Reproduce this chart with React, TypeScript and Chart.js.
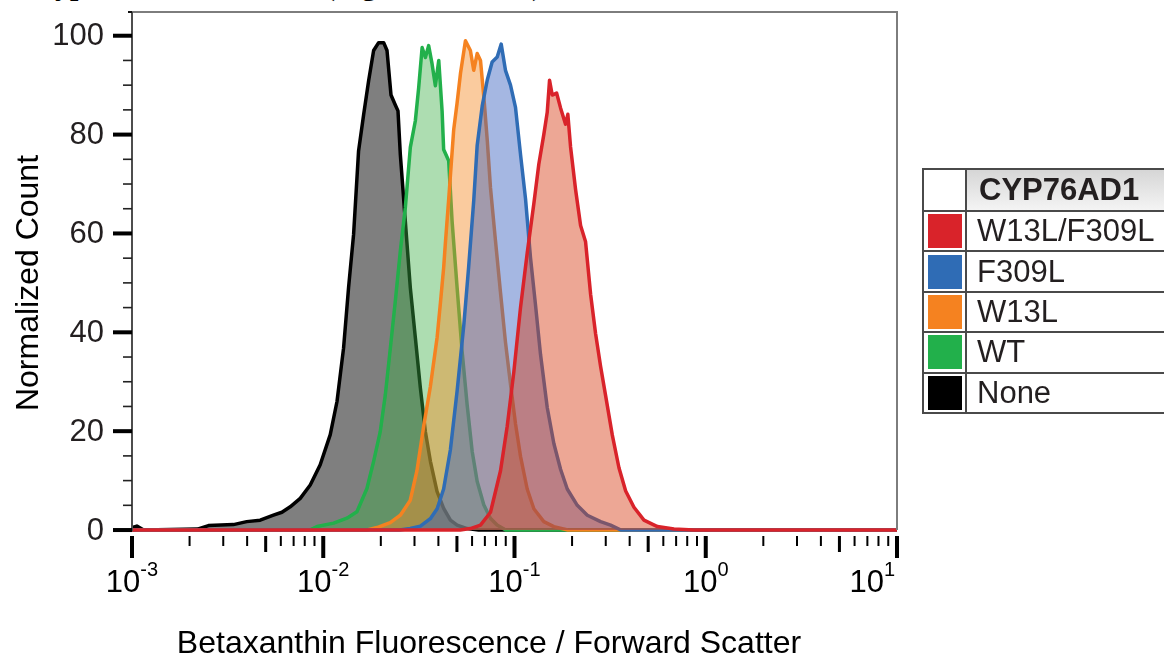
import React, { useEffect, useRef } from "react";
import { Chart, registerables } from "chart.js";

Chart.register(...registerables);

const W = 1164;
const H = 658;

// ---- series (x = betaxanthin/FSC ratio, y = normalized count) ----
const noneX = [0.001, 0.00106, 0.00115, 0.0022, 0.00251, 0.00339, 0.00398, 0.00468, 0.00549, 0.00608, 0.00672, 0.00758, 0.00855, 0.00964, 0.01088, 0.0118, 0.01277, 0.01356, 0.01441, 0.0153, 0.01626, 0.01727, 0.01834, 0.01948, 0.0207, 0.02155, 0.02261, 0.02381, 0.02459, 0.02529, 0.02686, 0.02853, 0.03031, 0.0322, 0.0342, 0.03633, 0.03934, 0.04261, 0.04622, 0.05012, 0.05656, 0.065, 10];
const noneY = [0.5, 0.8, 0, 0.2, 0.9, 1.1, 1.7, 2.0, 3.0, 3.6, 4.7, 6.4, 9.1, 13.2, 19.3, 26, 36.8, 49, 59.8, 76.7, 84, 90.9, 97, 98.6, 98.6, 97, 88, 86, 84.8, 76, 62.5, 49, 38.9, 28.7, 19.9, 13.9, 7.8, 4.4, 2.0, 1.0, 0.3, 0, 0];

const wtX = [0.001, 0.0085, 0.00927, 0.01133, 0.0133, 0.015, 0.01692, 0.01834, 0.01986, 0.02112, 0.02243, 0.02381, 0.02529, 0.02686, 0.02853, 0.03031, 0.03155, 0.03288, 0.0342, 0.03557, 0.03707, 0.03857, 0.04017, 0.04182, 0.04261, 0.04528, 0.04717, 0.05012, 0.05323, 0.05656, 0.06008, 0.06383, 0.06907, 0.07482, 0.0811, 0.09, 10];
const wtY = [0, 0, 0.7, 1.4, 2.4, 3.7, 8.4, 13.9, 19.9, 27.4, 36.8, 46.3, 56.4, 65.2, 77.4, 82.8, 89.5, 97.6, 95.6, 98, 94.3, 89.9, 95, 84.8, 77, 74.7, 62.5, 49, 36.1, 25.3, 15.9, 9.8, 5.1, 2.4, 1.0, 0, 0];

const w13lX = [0.001, 0.017, 0.0191, 0.0224, 0.0253, 0.0285, 0.0309, 0.0335, 0.0363, 0.0394, 0.041, 0.0426, 0.0435, 0.0453, 0.0481, 0.0501, 0.0522, 0.0554, 0.0588, 0.0612, 0.0638, 0.0664, 0.0691, 0.072, 0.0749, 0.0795, 0.0845, 0.0897, 0.0953, 0.1012, 0.1075, 0.1165, 0.1262, 0.1423, 0.1606, 0.19, 10];
const w13lY = [0, 0, 0.5, 1.5, 3, 6, 12, 21, 29, 39, 46, 53, 58, 67, 81, 86.4, 92.4, 99, 97, 93, 96.4, 95, 87.7, 79, 69.2, 58.6, 48, 38, 29.5, 21.5, 14.9, 8.3, 4.3, 1.7, 0.7, 0, 0];

const f309lX = [0.001, 0.025, 0.0285, 0.0322, 0.0363, 0.0394, 0.0426, 0.0462, 0.0501, 0.0543, 0.0576, 0.0612, 0.0638, 0.0678, 0.072, 0.0764, 0.0812, 0.0852, 0.0897, 0.0953, 0.1012, 0.1075, 0.1142, 0.1213, 0.1288, 0.1368, 0.1483, 0.1606, 0.1741, 0.1887, 0.2129, 0.2402, 0.282, 0.318, 0.36, 10];
const f309lY = [0, 0, 0.3, 0.8, 2.3, 4.3, 8.3, 16.2, 28.1, 41.4, 53.3, 66.6, 77.8, 85.8, 91, 94.7, 95.7, 98.3, 93, 90, 85.5, 76, 67, 55, 45.5, 35.5, 24.8, 17.5, 12.3, 8.3, 5, 3, 1.7, 1, 0, 0];

const dblX = [0.001, 0.052, 0.0588, 0.0664, 0.0749, 0.0845, 0.0916, 0.0992, 0.1075, 0.1165, 0.1262, 0.134, 0.1423, 0.1483, 0.1525, 0.1575, 0.166, 0.1741, 0.1849, 0.1901, 0.1964, 0.2086, 0.2216, 0.2353, 0.25, 0.2655, 0.282, 0.2995, 0.3247, 0.3517, 0.3813, 0.4213, 0.4753, 0.5585, 0.6823, 0.8653, 10];
const dblY = [0, 0, 0.3, 1, 3.6, 12, 21, 32, 45, 56, 66, 74, 80, 84.5, 91, 88, 88.4, 85.4, 82.1, 84.1, 77.5, 68.9, 61.6, 58.3, 47.7, 39.7, 33.1, 27.2, 19.2, 12.6, 7.9, 4.6, 2, 0.7, 0.2, 0, 0];

// legend / series order (top of legend = drawn on top)
const seriesLabels = ["W13L/F309L", "F309L", "W13L", "WT", "None"];
const seriesXs = [dblX, f309lX, w13lX, wtX, noneX];
const seriesYs = [dblY, f309lY, w13lY, wtY, noneY];
const lineColors = ["#d9232a", "#2f6cb5", "#f58220", "#22b04b", "#000000"];
const fillColors = [
  "rgba(215,60,20,0.45)",
  "rgba(55,95,190,0.45)",
  "rgba(245,140,40,0.45)",
  "rgba(60,175,70,0.42)",
  "rgba(0,0,0,0.5)",
];
const legendTitle = "CYP76AD1";

// axes
const xMin = 0.001;
const xMax = 10;
const yMin = -0.6;
const yMax = 104.8;
const yLabelTicks = [0, 20, 40, 60, 80, 100];
const yMinorStep = 5;
const xDecades = [-3, -2, -1, 0, 1];
const xTitle = "Betaxanthin Fluorescence / Forward Scatter";
const yTitle = "Normalized Count";

const SANS = "'Liberation Sans', Arial, Helvetica, sans-serif";
const TEXT = "#231f20";

const axisPlugin = {
  id: "flowAxes",
  afterDatasetsDraw(chart: any) {
    const ctx = chart.ctx;
    const xs = chart.scales.x;
    const ys = chart.scales.y;
    const a = chart.chartArea;
    const y0 = ys.getPixelForValue(0);
    ctx.save();

    // frame (top + right grey)
    ctx.strokeStyle = "#7d7d7d";
    ctx.lineWidth = 2;
    ctx.beginPath();
    ctx.moveTo(a.left, a.top);
    ctx.lineTo(a.right, a.top);
    ctx.lineTo(a.right, y0);
    ctx.stroke();
    // left axis
    ctx.strokeStyle = "#4d4d4d";
    ctx.beginPath();
    ctx.moveTo(a.left, a.top);
    ctx.lineTo(a.left, y0 + 1);
    ctx.stroke();
    // small stub at top
    ctx.fillStyle = "#111";
    ctx.fillRect(a.left - 4, a.top - 1, 4, 2);

    // y ticks
    for (let v = 0; v <= 100; v += yMinorStep) {
      const py = ys.getPixelForValue(v);
      if (v % 20 === 0) {
        ctx.fillStyle = "#000";
        ctx.fillRect(a.left - 19, py - 2, 19, 4);
      } else {
        ctx.fillStyle = "#222";
        ctx.fillRect(a.left - 9, py - 0.8, 9, 1.6);
      }
    }
    ctx.fillStyle = TEXT;
    ctx.font = `31px ${SANS}`;
    ctx.textAlign = "right";
    ctx.textBaseline = "middle";
    yLabelTicks.forEach((v) => {
      ctx.fillText(String(v), 104, ys.getPixelForValue(v) + 1);
    });

    // x ticks
    const tTop = a.bottom + 3;
    xDecades.forEach((d) => {
      const base = Math.pow(10, d);
      const px = xs.getPixelForValue(base);
      ctx.fillStyle = "#000";
      ctx.fillRect(px - 2, tTop, 4, 22);
      if (d < xDecades[xDecades.length - 1]) {
        for (let k = 2; k <= 9; k++) {
          const p = xs.getPixelForValue(k * base);
          if (k === 5) {
            ctx.fillRect(p - 1.5, tTop, 3, 16);
          } else {
            ctx.fillRect(p - 1, tTop, 2, 10);
          }
        }
      }
    });

    // x labels 10^d
    ctx.textAlign = "left";
    ctx.textBaseline = "alphabetic";
    xDecades.forEach((d) => {
      const px = xs.getPixelForValue(Math.pow(10, d));
      ctx.font = `31px ${SANS}`;
      const wb = ctx.measureText("10").width;
      ctx.font = `20px ${SANS}`;
      const exp = String(d);
      const we = ctx.measureText(exp).width;
      const total = wb + we;
      let left = px - total / 2;
      if (left + total > a.right - 2) left = a.right - 2 - total;
      ctx.font = `31px ${SANS}`;
      ctx.fillText("10", left, 592);
      ctx.font = `20px ${SANS}`;
      ctx.fillText(exp, left + wb, 576);
    });

    // titles
    ctx.font = `32px ${SANS}`;
    ctx.textAlign = "center";
    ctx.textBaseline = "alphabetic";
    ctx.fillText(xTitle, 489, 653);
    ctx.save();
    ctx.translate(38, 283);
    ctx.rotate(-Math.PI / 2);
    ctx.fillText(yTitle, 0, 0);
    ctx.restore();

    ctx.restore();
  },
};

function Legend() {
  const border = "2px solid #4a4a4a";
  const cellBase: React.CSSProperties = {
    border,
    padding: 0,
    boxSizing: "border-box",
  };
  return (
    <table
      style={{
        position: "absolute",
        left: 922,
        top: 168,
        borderCollapse: "collapse",
        fontFamily: SANS,
        color: TEXT,
        tableLayout: "fixed",
        width: 300,
      }}
    >
      <colgroup>
        <col style={{ width: 43 }} />
        <col style={{ width: 257 }} />
      </colgroup>
      <tbody>
        <tr style={{ height: 42 }}>
          <td style={{ ...cellBase, background: "#fff" }} />
          <td
            style={{
              ...cellBase,
              background: "linear-gradient(to bottom, #d6d6d6, #f4f4f4)",
              fontWeight: "bold",
              fontSize: 31,
              paddingLeft: 12,
              lineHeight: "38px",
              whiteSpace: "nowrap",
            }}
          >
            {legendTitle}
          </td>
        </tr>
        {seriesLabels.map((lab, i) => (
          <tr key={lab} style={{ height: 40.4 }}>
            <td style={{ ...cellBase, background: "#fff" }}>
              <div
                style={{
                  width: 34,
                  height: 34,
                  margin: "0 auto",
                  background: lineColors[i],
                }}
              />
            </td>
            <td
              style={{
                ...cellBase,
                fontSize: 31,
                paddingLeft: 10,
                lineHeight: "36px",
                whiteSpace: "nowrap",
                background: "#fff",
              }}
            >
              {lab}
            </td>
          </tr>
        ))}
      </tbody>
    </table>
  );
}

export default function App() {
  const canvasRef = useRef<HTMLCanvasElement | null>(null);

  useEffect(() => {
    const canvas = canvasRef.current;
    if (!canvas) return;
    const datasets = seriesLabels.map((lab, i) => ({
      label: lab,
      data: seriesXs[i].map((x, j) => ({ x, y: seriesYs[i][j] })),
      borderColor: lineColors[i],
      backgroundColor: fillColors[i],
      fill: "origin",
      borderWidth: 3.5,
      pointRadius: 0,
      pointHoverRadius: 0,
      tension: 0,
      borderJoinStyle: "round" as const,
    }));
    const chart = new Chart(canvas, {
      type: "line",
      data: { datasets },
      options: {
        responsive: false,
        animation: false,
        devicePixelRatio: 1,
        layout: { padding: { left: 132, right: W - 897, top: 12, bottom: H - 533 } },
        plugins: { legend: { display: false }, tooltip: { enabled: false } },
        events: [],
        scales: {
          x: { type: "logarithmic", min: xMin, max: xMax, display: false },
          y: { type: "linear", min: yMin, max: yMax, display: false },
        },
      } as any,
      plugins: [axisPlugin],
    });
    return () => chart.destroy();
  }, []);

  const captionStyle: React.CSSProperties = {
    position: "absolute",
    top: -30,
    font: "bold 30px 'Liberation Serif', 'Times New Roman', serif",
    lineHeight: "30px",
    whiteSpace: "nowrap",
    color: "#000",
  };

  return (
    <div
      style={{
        position: "absolute",
        left: 0,
        top: 0,
        width: W,
        height: H,
        overflow: "hidden",
        background: "#fff",
      }}
    >
      <div style={{ ...captionStyle, left: 45 }}>types of mutants</div>
      <div style={{ ...captionStyle, left: 325 }}>(Figure S12A–C)</div>
      <canvas ref={canvasRef} width={W} height={H} style={{ position: "absolute", left: 0, top: 0 }} />
      <Legend />
    </div>
  );
}
